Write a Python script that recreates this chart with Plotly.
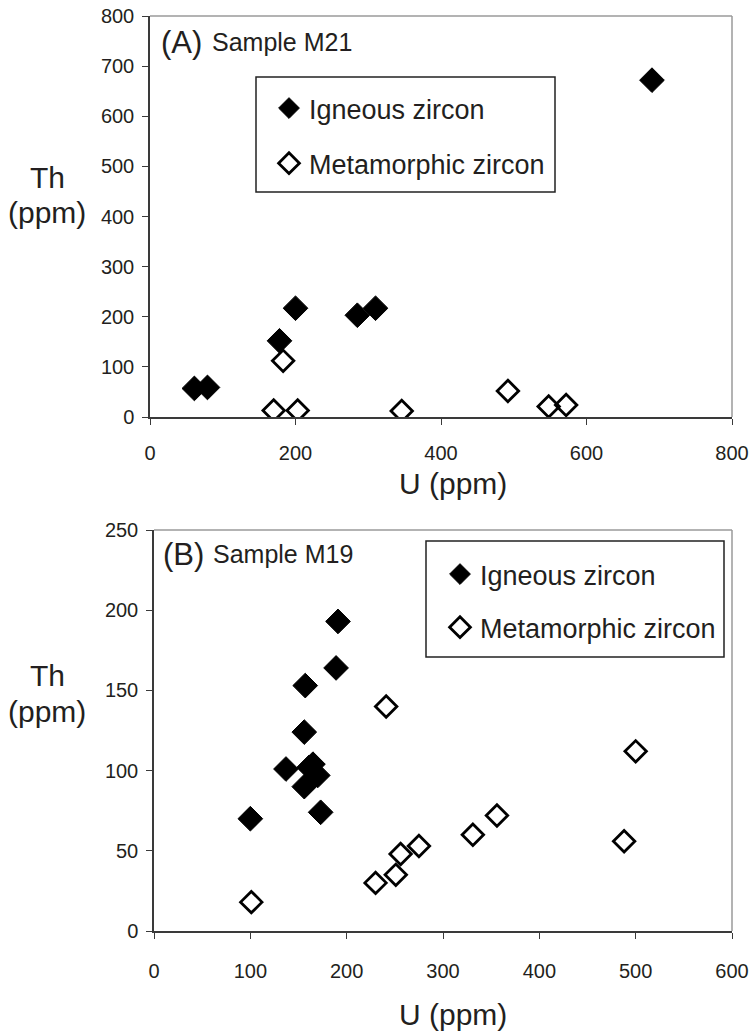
import plotly.graph_objects as go

# ---- Data: Panel A (Sample M21) ----
a_ign_u = [61, 79, 178, 200, 285, 310, 690]
a_ign_th = [57, 59, 152, 217, 203, 217, 672]
a_met_u = [183, 170, 203, 346, 492, 548, 572]
a_met_th = [112, 13, 13, 12, 52, 21, 24]

# ---- Data: Panel B (Sample M19) ----
b_ign_u = [100, 137, 156, 157, 161, 156, 165, 170, 173, 189, 191]
b_ign_th = [70, 101, 124, 153, 102, 90, 104, 97, 74, 164, 193]
b_met_u = [101, 230, 251, 256, 275, 241, 331, 356, 488, 500]
b_met_th = [18, 30, 35, 48, 53, 140, 60, 72, 56, 112]

a_xticks = [0, 200, 400, 600, 800]
a_yticks = [0, 100, 200, 300, 400, 500, 600, 700, 800]
b_xticks = [0, 100, 200, 300, 400, 500, 600]
b_yticks = [0, 50, 100, 150, 200, 250]

W, H = 753, 1036
FONT = "Liberation Sans, Arial, Helvetica, sans-serif"
TXT = "#231f20"
AX = "#3a3a3a"
FR = "#9a9a9a"


def fx(p):
    return p / W


def fy(p):
    return 1 - p / H


fig = go.Figure()

ign_marker = dict(symbol="diamond", size=19, color="black", line=dict(color="black", width=1))
met_marker = dict(symbol="diamond-open", size=16.5, color="black", line=dict(color="black", width=2.8))

fig.add_trace(go.Scatter(x=a_ign_u, y=a_ign_th, mode="markers", name="Igneous zircon",
                         marker=ign_marker, xaxis="x", yaxis="y", legend="legend",
                         legendgroup="a1"))
fig.add_trace(go.Scatter(x=a_met_u, y=a_met_th, mode="markers", name="Metamorphic zircon",
                         marker=met_marker, xaxis="x", yaxis="y", legend="legend",
                         legendgroup="a2"))
fig.add_trace(go.Scatter(x=b_ign_u, y=b_ign_th, mode="markers", name="Igneous zircon",
                         marker=ign_marker, xaxis="x2", yaxis="y2", legend="legend2",
                         legendgroup="b1"))
fig.add_trace(go.Scatter(x=b_met_u, y=b_met_th, mode="markers", name="Metamorphic zircon",
                         marker=met_marker, xaxis="x2", yaxis="y2", legend="legend2",
                         legendgroup="b2"))

axis_common = dict(showgrid=False, zeroline=False, showline=True, linecolor=AX, linewidth=1.5,
                   ticks="outside", ticklen=6, tickwidth=1, tickcolor=AX, automargin=False,
                   ticklabeloverflow="allow",
                   tickfont=dict(family=FONT, size=20, color=TXT))

fig.update_layout(
    width=W, height=H,
    margin=dict(l=0, r=0, t=0, b=0, pad=0, autoexpand=False),
    paper_bgcolor="white", plot_bgcolor="white",
    font=dict(family=FONT, color=TXT),
    hovermode=False,
    xaxis=dict(domain=[fx(150), fx(732)], range=[0, 800], tickvals=a_xticks, anchor="y",
               ticklabelstandoff=11, **axis_common),
    yaxis=dict(domain=[fy(417), fy(16)], range=[0, 800], tickvals=a_yticks, anchor="x",
               ticklabelstandoff=4, **axis_common),
    xaxis2=dict(domain=[fx(154), fx(732)], range=[0, 600], tickvals=b_xticks, anchor="y2",
                ticklabelstandoff=15, **axis_common),
    yaxis2=dict(domain=[fy(931), fy(530)], range=[0, 250], tickvals=b_yticks, anchor="x2",
                ticklabelstandoff=4, **axis_common),
    legend=dict(x=fx(269), y=fy(84), xanchor="left", yanchor="top", bgcolor="rgba(0,0,0,0)",
                borderwidth=0, font=dict(family=FONT, size=27, color=TXT),
                tracegroupgap=17, itemsizing="trace"),
    legend2=dict(x=fx(440), y=fy(550), xanchor="left", yanchor="top", bgcolor="rgba(0,0,0,0)",
                 borderwidth=0, font=dict(family=FONT, size=27, color=TXT),
                 tracegroupgap=15, itemsizing="trace"),
)

shapes = []
for xr, yr in (("x domain", "y domain"), ("x2 domain", "y2 domain")):
    shapes.append(dict(type="line", xref=xr, yref=yr, x0=0, x1=1, y0=1, y1=1,
                       line=dict(color=FR, width=1.5)))
    shapes.append(dict(type="line", xref=xr, yref=yr, x0=1, x1=1, y0=0, y1=1,
                       line=dict(color=FR, width=1.5)))
# legend boxes
shapes.append(dict(type="rect", xref="paper", yref="paper", x0=fx(256), x1=fx(555),
                   y0=fy(192), y1=fy(77), line=dict(color="#222", width=1.5)))
shapes.append(dict(type="rect", xref="paper", yref="paper", x0=fx(426), x1=fx(724),
                   y0=fy(657), y1=fy(541), line=dict(color="#222", width=1.5)))
fig.update_layout(shapes=shapes)

ann = []
# panel labels
ann.append(dict(text="(A)", x=fx(159), y=fy(42), xref="paper", yref="paper", xanchor="left",
                yanchor="middle", showarrow=False, font=dict(family=FONT, size=31, color=TXT)))
ann.append(dict(text="Sample M21", x=fx(210), y=fy(42), xref="paper", yref="paper", xanchor="left",
                yanchor="middle", showarrow=False, font=dict(family=FONT, size=25, color=TXT)))
ann.append(dict(text="(B)", x=fx(161), y=fy(554), xref="paper", yref="paper", xanchor="left",
                yanchor="middle", showarrow=False, font=dict(family=FONT, size=31, color=TXT)))
ann.append(dict(text="Sample M19", x=fx(211), y=fy(554), xref="paper", yref="paper", xanchor="left",
                yanchor="middle", showarrow=False, font=dict(family=FONT, size=25, color=TXT)))
# axis titles
for (xc, yc) in ((453, 483), (453, 1014)):
    ann.append(dict(text="U (ppm)", x=fx(xc), y=fy(yc), xref="paper", yref="paper",
                    xanchor="center", yanchor="middle", showarrow=False,
                    font=dict(family=FONT, size=30, color=TXT)))
for (xc, y1, y2) in ((47, 177, 213), (47, 675, 711)):
    ann.append(dict(text="Th", x=fx(xc), y=fy(y1), xref="paper", yref="paper",
                    xanchor="center", yanchor="middle", showarrow=False,
                    font=dict(family=FONT, size=30, color=TXT)))
    ann.append(dict(text="(ppm)", x=fx(xc), y=fy(y2), xref="paper", yref="paper",
                    xanchor="center", yanchor="middle", showarrow=False,
                    font=dict(family=FONT, size=30, color=TXT)))
fig.update_layout(annotations=ann)

# remove the browser's default 8px body margin so the 753x1036 figure fills the window
fig.write_html("out.html", config={"displayModeBar": False},
               post_script="document.body.style.margin='0px';")
